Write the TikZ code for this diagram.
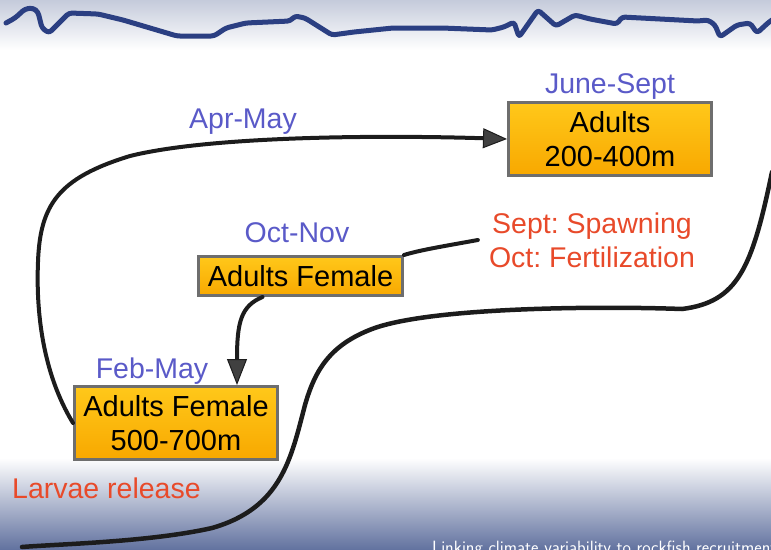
\documentclass[tikz,border=0pt]{standalone}
\usepackage{fontspec}
\setmainfont{Liberation Sans}
\usetikzlibrary{arrows.meta}
\definecolor{lblblue}{HTML}{5A5AC8}
\definecolor{lblred}{HTML}{E84A2A}
\definecolor{boxedge}{HTML}{6E6E6E}
\definecolor{boxtop}{HTML}{FFC81A}
\definecolor{boxbot}{HTML}{F8A800}
\definecolor{wavecol}{HTML}{2B3F82}
\definecolor{skytop}{HTML}{C5CBDB}
\definecolor{seabot}{HTML}{6373A0}
\definecolor{linecol}{HTML}{1C1C1C}
\frenchspacing
\begin{document}
\begin{tikzpicture}[x=1pt,y=-1pt,
  stagebox/.style={draw=boxedge, line width=3pt, top color=boxtop, bottom color=boxbot,
    minimum width=203pt, inner sep=0pt, align=center,
    font=\fontsize{29}{34}\selectfont, text=black},
  period/.style={text=lblblue, font=\fontsize{28.5}{34}\selectfont, inner sep=0pt, anchor=base},
  event/.style={text=lblred, font=\fontsize{28.5}{34}\selectfont, align=center},
  flow/.style={line width=4pt, draw=linecol, line cap=round},
  bigtip/.style={-{Triangle[length=24pt,width=20pt,fill=black!75,line width=1pt]}}
]
\useasboundingbox (0,0) rectangle (771,549);
\clip (0,0) rectangle (771,549);
% backgrounds
\fill[top color=skytop, bottom color=white] (0,0) rectangle (771,50);
\fill[top color=white, bottom color=seabot] (0,458) rectangle (771,549);
% surface wave
\draw[wavecol, line width=5pt, line join=round, line cap=round, rounded corners=3pt]
  (6,23) -- (15,18) -- (25,9) -- (33,8) -- (38,12) -- (42,28) -- (49,33) -- (69,13)
  -- (98,14) -- (123,20) -- (177,36) -- (214,36) -- (226,28) -- (246,23) -- (290,21)
  -- (295,16) -- (305,18) -- (332,35) -- (354,32) -- (393,28) -- (442,28) -- (492,30)
  -- (504,27) -- (514,22) -- (519,37) -- (538,10) -- (556,26) -- (575,15) -- (590,19)
  -- (617,24) -- (622,17) -- (698,21) -- (708,20) -- (715,25) -- (720,37) -- (737,25)
  -- (750,23) -- (757,33) -- (769,22) -- (775,18);
% boxes
\node[stagebox, minimum height=73pt] (top) at (610,139) {Adults\\200-400m};
\node[stagebox, minimum height=39pt, minimum width=204pt] (mid) at (300.5,276) {Adults Female};
\node[stagebox, minimum height=73pt] (bot) at (176,423) {Adults Female\\500-700m};
% labels
\node[period] (lj) at (610,93) {June-Sept};
\node[period] (la) at (243,128) {Apr-May};
\node[period] (lo) at (297,242) {Oct-Nov};
\node[period] (lf) at (152,378) {Feb-May};
\node[event, inner xsep=11pt] (spawn) at (592,240) {Sept: Spawning\\Oct: Fertilization};
\node[text=lblred, font=\fontsize{28.5}{34}\selectfont, inner sep=0pt, anchor=base west] (larv) at (12,498) {Larvae release};
\node[text=white, font=\fontsize{17.8}{20}\sffamily, inner sep=0pt, anchor=base west] (foot) at (432,553) {Linking climate variability to rockfish recruitment};
% free ends of the big curve
\coordinate (sA) at (772,172);
\coordinate (sB) at (22,547);
% connectors
\draw[flow, bigtip] (bot.west) .. controls (42,372) and (36,310) .. (38,262)
  .. controls (40,205) and (58,178) .. (130,156)
  .. controls (210,136) and (380,135) .. (top.west);
\draw[flow, -{Triangle[length=26pt,width=20pt,fill=black!75,line width=1pt]}]
  ([xshift=-38pt]mid.south) .. controls (241,306) and (237,322) .. ([xshift=61pt]bot.north);
\draw[flow] (spawn.west) .. controls (445,246) and (420,250) .. (mid.north east);
\draw[flow, line width=4.5pt] (sA) .. controls (752,268) and (738,302) .. (682,309)
  .. controls (600,306) and (430,307) .. (372,329)
  .. controls (330,345) and (315,370) .. (305,405)
  .. controls (291,458) and (282,508) .. (212,528)
  .. controls (150,542) and (60,544) .. (sB);
\end{tikzpicture}
\end{document}
